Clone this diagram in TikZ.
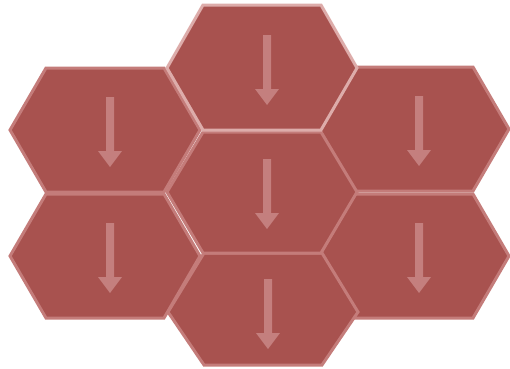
\documentclass[tikz,border=0pt]{standalone}
\definecolor{hexfill}{HTML}{A8524F}
\definecolor{hexline}{HTML}{C47C7A}
\definecolor{hexlight}{HTML}{DDACAA}
\definecolor{arrowc}{HTML}{C47F7E}
\tikzset{
  hexagon/.style={fill=hexfill, draw=hexline, line width=3pt, line join=miter},
  downarrow/.style={fill=arrowc, draw=none}
}
\newcommand\hexcell[5]{% name, cx, cy, h-top, h-bottom
  \coordinate (#1) at (#2,#3);
  \draw[hexagon] (#2-95,#3) -- (#2-59,#3-#4) -- (#2+59,#3-#4) -- (#2+95,#3)
     -- (#2+59,#3+#5) -- (#2-59,#3+#5) -- cycle;
  \fill[downarrow] (#2+1,#3-33) -- (#2+9,#3-33) -- (#2+9,#3+21) -- (#2+17,#3+21)
     -- (#2+5,#3+37) -- (#2-7,#3+21) -- (#2+1,#3+21) -- cycle;
}
\begin{document}
\begin{tikzpicture}[x=1pt,y=-1pt]
\useasboundingbox (0,0) rectangle (510,368);
\hexcell{ul}{105}{130}{62}{62}
\hexcell{ur}{414}{129}{62}{62}
\hexcell{ll}{105}{256}{62}{62}
\hexcell{lr}{414}{256}{62}{62}
\hexcell{bot}{263}{312}{59}{53}
\hexcell{ctr}{262}{192}{60}{61}
\begin{scope}[hexagon/.append style={draw=hexlight}]
\hexcell{top}{262}{68}{63}{62}
\end{scope}
\end{tikzpicture}
\end{document}
